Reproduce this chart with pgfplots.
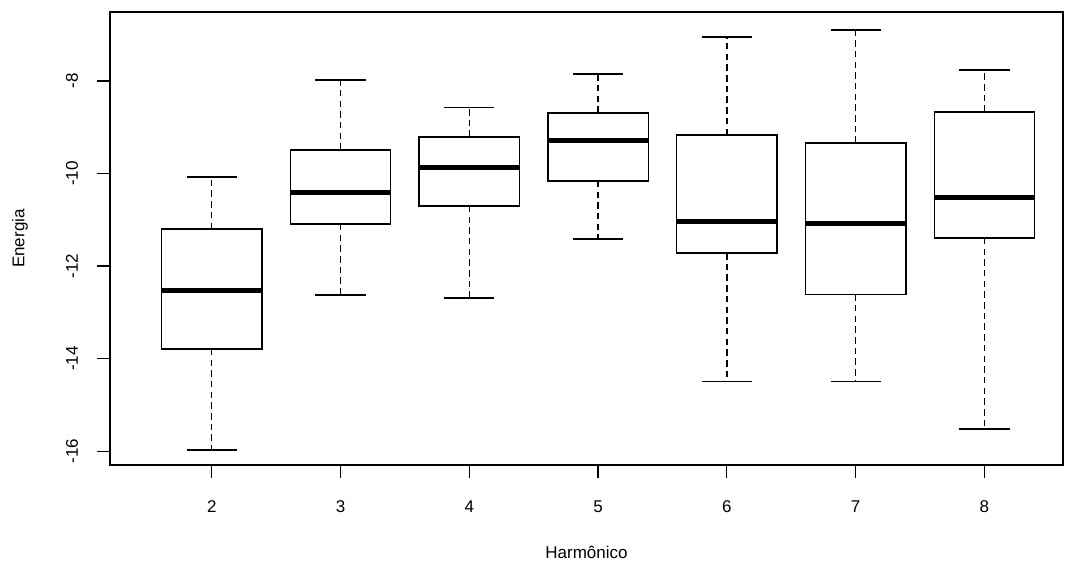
\documentclass[border=0pt]{standalone}
\usepackage{fontspec}
\setmainfont{Liberation Sans}
\usepackage{pgfplots}
\pgfplotsset{compat=1.18}
\usepgfplotslibrary{statistics}
\newdimen\px \px=0.5pt
\pgfplotsset{
  boxplot/draw/lower whisker/.code={%
    \draw[black, line width=0.7pt, dash pattern=on 6.5\px off 4.2\px]
      (boxplot box cs:\pgfplotsboxplotvalue{lower quartile},0.5) --
      (boxplot box cs:\pgfplotsboxplotvalue{lower whisker},0.5);
    \draw[black, line width=0.7pt, solid]
      (boxplot whisker cs:\pgfplotsboxplotvalue{lower whisker},0) --
      (boxplot whisker cs:\pgfplotsboxplotvalue{lower whisker},1);
  },
  boxplot/draw/upper whisker/.code={%
    \draw[black, line width=0.7pt, dash pattern=on 6.5\px off 4.2\px]
      (boxplot box cs:\pgfplotsboxplotvalue{upper quartile},0.5) --
      (boxplot box cs:\pgfplotsboxplotvalue{upper whisker},0.5);
    \draw[black, line width=0.7pt, solid]
      (boxplot whisker cs:\pgfplotsboxplotvalue{upper whisker},0) --
      (boxplot whisker cs:\pgfplotsboxplotvalue{upper whisker},1);
  },
}
\begin{document}
\fontsize{8.5}{10}\selectfont
\begin{tikzpicture}
\useasboundingbox (0,0) rectangle (1073\px,567\px);
\begin{axis}[
  at={(110\px,102\px)}, anchor=south west,
  scale only axis, width=953\px, height=453\px,
  xmin=0.21, xmax=7.61, ymin=-16.30, ymax=-6.51,
  axis line style={line width=0.7pt, black},
  xtick={1,2,3,4,5,6,7}, xticklabels={2,3,4,5,6,7,8},
  ytick={-16,-14,-12,-10,-8}, yticklabels={-16,-14,-12,-10,-8},
  tick align=outside, major tick length=13\px,
  xtick pos=bottom, ytick pos=left,
  tick style={line width=0.6pt, black},
  xticklabel style={anchor=center, yshift=-28.5\px},
  yticklabel style={rotate=90, anchor=center, yshift=25\px},
  xlabel={Harmônico}, ylabel={Energia},
  xlabel style={at={(axis description cs:0.5,0)}, anchor=center, yshift=-87\px},
  ylabel style={at={(axis description cs:0,0.5)}, anchor=center, yshift=90\px},
  boxplot/draw direction=y,
  boxplot/box extend=0.78,
  boxplot/whisker extend=0.39,
  boxplot/every box/.style={black, line width=0.7pt, solid},
  boxplot/every median/.style={black, line width=2.5pt, solid},
]
\addplot[black, solid, mark=none, boxplot prepared={draw position=1, lower whisker=-15.98, lower quartile=-13.79, median=-12.52, upper quartile=-11.20, upper whisker=-10.08}] coordinates {};
\addplot[black, solid, mark=none, boxplot prepared={draw position=2, lower whisker=-12.63, lower quartile=-11.09, median=-10.42, upper quartile=-9.49, upper whisker=-7.98}] coordinates {};
\addplot[black, solid, mark=none, boxplot prepared={draw position=3, lower whisker=-12.69, lower quartile=-10.70, median=-9.88, upper quartile=-9.21, upper whisker=-8.58}] coordinates {};
\addplot[black, solid, mark=none, boxplot prepared={draw position=4, lower whisker=-11.42, lower quartile=-10.16, median=-9.28, upper quartile=-8.69, upper whisker=-7.85}] coordinates {};
\addplot[black, solid, mark=none, boxplot prepared={draw position=5, lower whisker=-14.49, lower quartile=-11.72, median=-11.03, upper quartile=-9.17, upper whisker=-7.05}] coordinates {};
\addplot[black, solid, mark=none, boxplot prepared={draw position=6, lower whisker=-14.49, lower quartile=-12.61, median=-11.09, upper quartile=-9.34, upper whisker=-6.90}] coordinates {};
\addplot[black, solid, mark=none, boxplot prepared={draw position=7, lower whisker=-15.52, lower quartile=-11.39, median=-10.51, upper quartile=-8.67, upper whisker=-7.76}] coordinates {};
\end{axis}
\end{tikzpicture}
\end{document}
